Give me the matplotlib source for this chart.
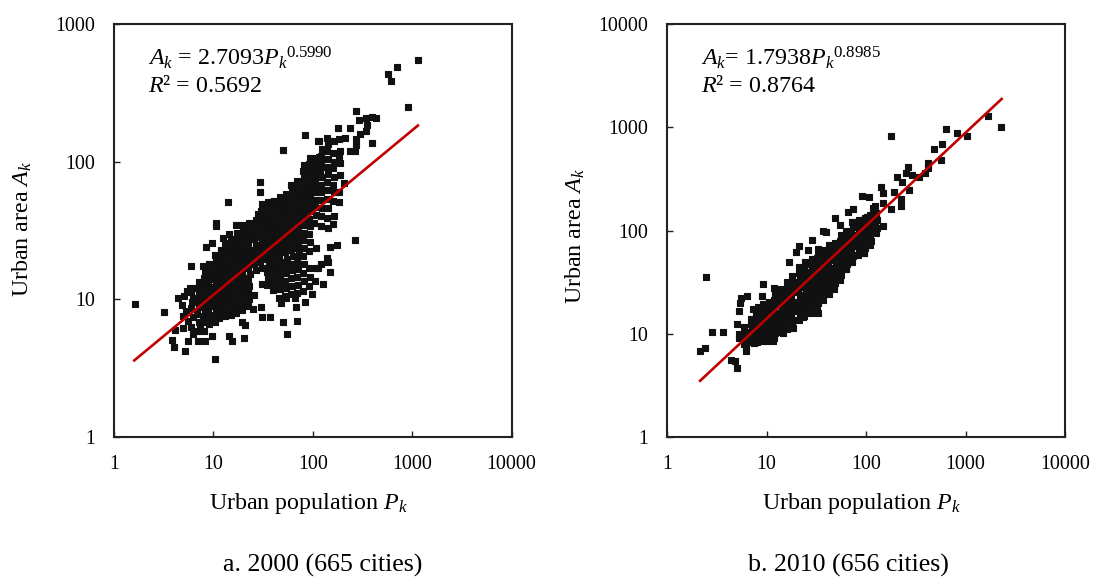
import numpy as np
import matplotlib
matplotlib.use("Agg")
import matplotlib.pyplot as plt
from matplotlib.markers import MarkerStyle

plt.rcParams["font.family"] = ["Liberation Serif", "DejaVu Serif"]
plt.rcParams["mathtext.fontset"] = "custom"
plt.rcParams["mathtext.rm"] = "Liberation Serif"
plt.rcParams["mathtext.it"] = "Liberation Serif:italic"

# (population, area)
outer_2000 = [
    (1.64,9.25),(3.15,8.1),(4.37,10.3),(5.9,17.5),(7.84,17.5),(8.5,24),(9.6,25.8),(10.7,34),(10.7,36),(12.4,28),
    (14.4,30),(11.9,22.8),(4.1,6.0),(3.83,5.1),(3.98,4.5),(5.2,4.2),(10.4,3.7),(5.6,5.0),(7.0,4.99),(8.2,5.0),
    (9.6,5.4),(14.4,5.4),(15.5,4.95),(20.4,5.2),(55.7,5.6),(70,6.95),(50,6.8),(21,6.5),(19.6,6.9),(37,7.5),
    (31,7.5),(30,8.8),(24.8,8.5),(67.5,8.8),(47.7,9.4),(83,9.6),(99,10.9),(25.4,10.7),(40,11.7),(1143,547),
    (698,489),(571,430),(608,385),(901,249),(270,233),(292,200),(341,206),(398,211),(430,209),(349,184),
    (341,167),(297,158),(270,146),(275,132),(398,136),(237,119),(266,119),(181,176),(236,176),(211,148),
    (184,146),(116,142),(138,149),(164,142),(84,157),(113,142),(50,121),(98,106),(92,91),(115,109),
    (107,83),(29.5,71),(29.5,60),(14,51),(16.8,34.7),(19.6,34.7),(23,36),(28,42),(265,27),(175,25),
    (114,17),(205,70),(182,51),(187,98),(148,15.9),(127,13),(143,18.8),(150,24),(31,13),(54,10.2),(66,10.2),
]
dense_2000 = [
    (5.0,6.2),(5.3,8.2),(4.8,9.1),(5.1,10.5),(5.5,7.0),(5.4,11.5),(4.9,7.6),
    (6.0,6.3),(6.2,7.4),(5.9,8.6),(6.1,9.6),(6.3,10.2),(6.0,11.3),(6.2,5.6),(5.8,12),
    (7,5.9),(7.1,6.8),(6.9,7.8),(7.2,8.8),(7,9.8),(7.2,10.8),(6.9,12),(7.1,13.4),(7.3,6.2),
    (8,5.9),(8.1,6.8),(7.9,7.6),(8.2,8.5),(8,9.4),(8.2,10.4),(7.9,11.5),(8.1,12.8),(8,14.2),(8.3,16),
    (9,6.6),(9.2,7.4),(8.9,8.2),(9.1,9),(9.3,9.9),(9,11),(9.2,12.2),(8.9,13.4),(9.1,14.8),(9.3,16.2),(9,18),
    (10.5,6.9),(10.3,7.7),(10.6,8.6),(10.4,9.5),(10.7,10.5),(10.3,11.6),(10.6,12.8),(10.4,14),(10.7,15.5),(10.3,17),(10.6,19),(10.4,21),
    (11.5,7.3),(11.8,8.1),(11.4,9),(11.7,10),(11.5,11),(11.9,12.2),(11.4,13.5),(11.7,15),(11.5,16.5),(11.8,18.2),(11.6,20),(11.9,22.5),
    (13,7.6),(13.3,8.5),(12.9,9.4),(13.2,10.4),(13,11.5),(13.4,12.7),(12.9,14),(13.2,15.5),(13,17),(13.3,19),(13.1,21),(13.4,23),(13,25.5),
    (15,7.7),(15.3,8.6),(14.9,9.6),(15.2,10.6),(15,11.8),(15.4,13),(14.9,14.5),(15.2,16),(15,17.8),(15.3,19.7),(15.1,22),(15.4,24.3),(15,27),
    (17,8),(17.4,9),(16.9,10),(17.2,11),(17,12.2),(17.5,13.5),(16.9,15),(17.3,16.5),(17,18.3),(17.4,20.2),(17.1,22.3),(17.5,24.7),(17,27.5),(17.3,30.5),
    (19.5,8.3),(19.9,9.4),(19.3,10.5),(19.7,11.7),(19.5,13),(20,14.4),(19.3,16),(19.8,17.7),(19.5,19.6),(19.9,21.7),(19.4,24),(19.8,26.5),(19.5,29.5),(20,33),
    (22.5,8.9),(23,10),(22.3,11.2),(22.8,12.4),(22.5,13.8),(23.1,15.3),(22.3,17),(22.8,18.8),(22.5,20.8),(23,23),(22.4,25.5),(22.9,28.3),(22.5,31.5),(23,35),
    (26.7,16.4),(25.8,18.2),(26.4,20.2),(26,22.4),(26.6,24.8),(25.9,27.5),(26.4,30.5),(26,34),(26.6,38),
    (30.8,17),(29.7,18.8),(30.4,21),(30,23.2),(30.7,25.8),(29.8,28.6),(30.5,31.8),(30,35),(30.7,39),(30,44),(30.6,49),
    (34.7,12.7),(35.5,14.2),(35,15.8),(36,17.6),(34.7,19.6),(35.5,21.8),(35,24.2),(35.8,27),(34.8,30),(35.6,33.5),(35,37),(35.8,41),(35,46),(35.7,51),
    (39.7,13),(40.6,14.5),(40,16.2),(41.2,18),(39.7,20),(40.6,22.3),(40,24.8),(41,27.6),(39.8,30.7),(40.7,34),(40,38),(41,42),(40,47),(40.8,52),
    (46,10.3),(47,11.8),(45.6,13.3),(46.7,15),(46,16.8),(47.3,18.8),(45.6,21),(46.7,23.4),(46,26),(47,29),(45.8,32.3),(46.8,36),(46,40),(47,44.5),(46,49.5),(46.9,55),
    (53,10.5),(54.2,12),(52.6,13.7),(53.8,15.5),(53,17.5),(54.5,19.6),(52.6,22),(53.8,24.6),(53,27.5),(54.2,30.6),(52.8,34),(54,38),(53,42.3),(54.2,47),(53,52),(54,58),
    (61,11),(62.4,12.6),(60.5,14.3),(62,16.2),(61,18.2),(62.8,20.5),(60.5,23),(62,25.7),(61,28.7),(62.4,32),(60.8,35.7),(62.2,39.8),(61,44.3),(62.4,49),(61,55),(62.2,61),(61,68),
    (70,11.2),(71.6,12.8),(69.4,14.5),(71.2,16.5),(70,18.7),(72,21),(69.4,23.7),(71.2,26.6),(70,30),(71.6,33.5),(69.8,37.5),(71.4,42),(70,47),(71.6,52),(70,58),(71.4,65),(70,72),
    (80,11.5),(82,13.5),(79.4,15.5),(81.5,18),(80,20.5),(82.4,23.5),(79.4,27),(81.5,30.5),(80,34.5),(82,39),(79.8,44),(81.7,49),(80,55),(82,61),(80,68),(81.7,76),(80,85),(82,95),
    (92,12.5),(94,14.5),(91.2,17),(92,22.5),(94.6,26),(91.2,30),(93.6,34),(92,38.5),(94,43.5),(91.6,49),(93.8,55),(92,62),(94,69),(92,77),(93.8,86),(92,96),(94,107),
    (105,13.5),(107,17),(106.7,23.5),(104,36),(106.7,41),(105,46.5),(107.3,53),(104.6,60),(107,67),(105,75),(107.3,84),(105,94),(107,105),
    (120,18),(122,34),(120,40),(123.4,46),(119,53),(122,60),(120,68),(122.6,77),(119.5,87),(122.2,98),(120,110),(122.6,123),
    (140,20),(143,33),(139,39),(142,46),(140,54),(144,62),(139,71),(142,81),(140,92),(143,105),(139.5,120),(142.5,135),
    (160,35),(164,40),(159,52),(162,60),(160,68),(165,78),(159,90),(162,100),(160,115),
    (185,60),(190,80),(183,110),(188,119),
]
# fitted line ends, 2000
fit_pop_2000 = [1.6, 1143]
fit_area_2000 = [3.6, 183]

# (population, area)
outer_2010 = [
    (2.47,35.7),(2.15,6.85),(2.41,7.3),(2.81,10.3),(3.63,10.3),(4.37,5.57),(4.8,5.45),(5.05,4.7),(6.2,6.8),(6.3,23.4),
    (5.6,22),(5.4,19.7),(5.3,16.6),(5.1,12.4),(5.3,10),(5.3,9),(9.2,30),(9,23),(11.9,28),(7.4,17.4),
    (8.3,18.3),(7,14),(17,49),(20,62),(21,71),(28.4,81),(26,65),(33,66),(37,100),(40,97),
    (48.8,131),(55,113),(66,150),(74.5,161),(92,216),(107,212),(74.5,122),(98,131),(118,164),(33,16),
    (23.4,14.6),(18.3,11.3),(14.8,10.1),(11.7,8.6),(10,8.5),(7.5,8.1),(63,42),(45,29),(38.7,29.7),(95.5,60),
    (2275,998),(1670,1285),(1028,828),(828,873),(637,955),(581,689),(482,615),(562,482),(423,454),(423,405),
    (395,357),(179.6,822),(266,409),(252,357),(288,344),(203,327),(228,297),(341,327),(270,247),(141,266),
    (149,229),(192,234),(225,202),(225,174),(178,161),(123,173),(147,111),(149,186),(123,147),(102,136),
    (128,126),(90.6,126),(72,122),(77.6,109),(102,109),(118,109),
]
dense_2010 = [
    (6,8),(6.1,8.8),(5.9,9.6),(6.1,10.5),(6,11.5),(6.2,7.2),
    (7,8.3),(7.2,9.2),(6.9,10.2),(7.1,11.2),(7,12.5),(7.2,14),
    (8,8.4),(8.2,9.3),(7.9,10.3),(8.1,11.4),(8,12.6),(8.2,14),(7.9,15.5),(8.2,17),
    (9.2,8.6),(9.4,9.5),(9.1,10.5),(9.3,11.6),(9.2,12.8),(9.4,14.2),(9.1,15.8),(9.4,17.5),(9.2,19.5),
    (10.5,9),(10.8,10),(10.4,11),(10.7,12.2),(10.5,13.5),(10.8,15),(10.4,16.7),(10.7,18.5),(10.5,20.5),
    (12,9),(12.3,10.2),(11.9,11.3),(12.2,12.6),(12,14),(12.4,15.5),(11.9,17.2),(12.2,19),(12,21),(12.3,23.5),
    (13.8,10.5),(14.1,11.7),(13.6,13),(14,14.5),(13.8,16),(14.2,18),(13.6,20),(14,22),(13.8,24.5),(14.1,27),
    (16,11),(16.4,12.3),(15.8,13.7),(16.2,15.2),(16,17),(16.5,19),(15.8,21),(16.2,23.5),(16,26),(16.4,29),(16,32),
    (18,12),(18.4,13.5),(17.8,15),(18.3,16.7),(18,18.5),(18.5,20.5),(17.8,23),(18.3,25.5),(18,28.5),(18.4,32),(18,36),
    (21,13.5),(21.5,15),(20.8,16.7),(21.3,18.5),(21,20.5),(21.6,23),(20.8,25.5),(21.3,28.5),(21,32),(21.5,35),(21,39),(21.4,44),
    (24,15),(24.6,17),(23.8,19),(24.4,21),(24,23.5),(24.7,26),(23.8,29),(24.4,32),(24,36),(24.6,40),(24,44),(24.5,49),
    (28,16),(28.7,18),(27.7,20),(28.4,22),(28,24.5),(28.8,27),(27.7,30),(28.4,34),(28,38),(28.7,42),(28,47),(28.6,53),
    (32,17),(32.8,20),(31.7,22.5),(32.5,25),(32,28),(33,31),(31.7,35),(32.5,39),(32,43),(32.8,48),(32,54),(32.7,60),
    (37,21),(38,24),(36.6,27),(37.6,30),(37,34),(38.2,38),(36.6,42),(37.6,47),(37,52),(38,58),(37,65),
    (42,24),(43,27),(41.6,30),(42.7,34),(42,38),(43.4,42),(41.6,47),(42.7,52),(42,58),(43,65),(42,72),
    (48,27),(49,31),(47.5,35),(48.8,39),(48,43),(49.5,48),(47.5,54),(48.8,60),(48,67),(49,75),
    (55,33),(56.3,37),(54.5,41),(56,46),(55,52),(56.7,58),(54.5,65),(56,72),(55,80),(56.3,90),
    (63,42),(64.5,47),(62.4,52),(64,58),(63,65),(65,72),(62.4,80),(64,90),(63,100),
    (72,50),(74,56),(71.3,62),(73.2,70),(72,78),(74.3,87),(71.3,97),(73.2,108),
    (83,58),(85,65),(82.2,72),(84.4,80),(83,90),(85.6,100),(82.2,112),(84.4,125),
    (95,60),(97.3,68),(94,75),(96.6,85),(95,95),(98,106),(94,118),(96.6,130),
    (110,72),(112.6,80),(109,90),(111.8,100),(110,112),(113.4,125),(109,140),
    (125,95),(128,105),(124,118),(127,132),(125,148),
]
# fitted line ends, 2010
fit_pop_2010 = [2.15, 2310]
fit_area_2010 = [3.5, 1880]

xtick_vals = [1, 10, 100, 1000, 10000]
xtick_labels = ["1", "10", "100", "1000", "10000"]
ytick_vals_a = [1, 10, 100, 1000]
ytick_labels_a = ["1", "10", "100", "1000"]
ytick_vals_b = [1, 10, 100, 1000, 10000]
ytick_labels_b = ["1", "10", "100", "1000", "10000"]

W, H = 1094, 578


def panel(box, pts, fit_x, fit_y, yticks, ylabels, eq, r2, ylab_y):
    l, t, r, b = box
    ax = fig.add_axes([l / W, 1 - b / H, (r - l) / W, (b - t) / H])
    pts = np.array(pts)
    ax.plot(pts[:, 0], pts[:, 1], ls="none", color="#111111", zorder=2, ms=4.3, mew=0.8,
            marker=MarkerStyle("s", joinstyle="round"))
    ax.plot(fit_x, fit_y, color="#C00000", lw=1.9, zorder=3)
    ax.set_xscale("log")
    ax.set_yscale("log")
    ax.set_xlim(1, 10000)
    ax.set_ylim(yticks[0], yticks[-1])
    ax.set_xticks(xtick_vals, xtick_labels)
    ax.set_yticks(yticks, ylabels)
    ax.minorticks_off()
    ax.tick_params(direction="in", length=4, width=1, labelsize=14.4, color="#222222")
    ax.tick_params(axis="x", pad=13)
    ax.tick_params(axis="y", pad=13.5)
    for s in ax.spines.values():
        s.set_linewidth(1.5)
        s.set_color("#222222")
    ax.set_xlabel(r"Urban population $P_k$", fontsize=17.3, va="baseline")
    ax.xaxis.set_label_coords(195 / (r - l), -72 / (b - t))
    ax.set_ylabel(r"Urban area $A_k$", fontsize=17.3, va="baseline")
    ax.yaxis.set_label_coords(-85.5 / (r - l), ylab_y / (b - t))
    ax.text(34 / (r - l), 1 - 41 / (b - t), eq, transform=ax.transAxes, fontsize=17.3, va="baseline")
    ax.text(34 / (r - l), 1 - 68 / (b - t), r2, transform=ax.transAxes, fontsize=17.3, va="baseline")
    return ax


fig = plt.figure(figsize=(W / 100, H / 100), dpi=100)
panel((114, 24, 511.5, 437), outer_2000 + dense_2000, fit_pop_2000, fit_area_2000,
      ytick_vals_a, ytick_labels_a, r"$A_k$ = 2.7093$P_k$$^{0.5990}$", r"$R$² = 0.5692", 208)
panel((667, 24, 1065, 437), outer_2010 + dense_2010, fit_pop_2010, fit_area_2010,
      ytick_vals_b, ytick_labels_b, r"$A_k$= 1.7938$P_k$$^{0.8985}$", r"$R$² = 0.8764", 201)
fig.text(323 / W, 1 - 572 / H, "a. 2000 (665 cities)", ha="center", va="baseline", fontsize=18.6)
fig.text(848 / W, 1 - 572 / H, "b. 2010 (656 cities)", ha="center", va="baseline", fontsize=18.6)

fig.savefig("out.png", dpi=100)
